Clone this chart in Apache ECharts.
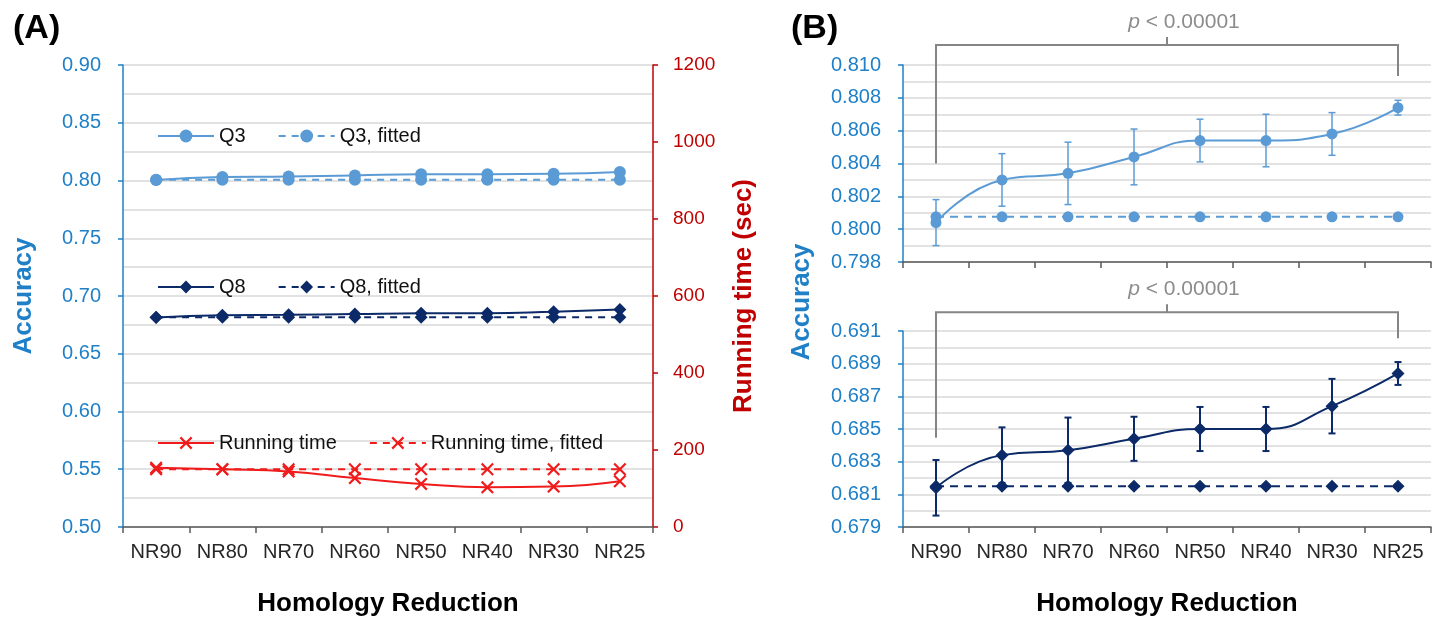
<!DOCTYPE html>
<html><head><meta charset="utf-8">
<script src="https://cdn.jsdelivr.net/npm/echarts@6/dist/echarts.min.js"></script>
<style>html,body{margin:0;padding:0;background:#fff}#c{width:1441px;height:617px}</style>
</head><body><div id="c"></div>
<script>
// ---------- data ----------
const categories = ['NR90','NR80','NR70','NR60','NR50','NR40','NR30','NR25'];
const q3 = [0.8004,0.8030,0.8034,0.8044,0.8054,0.8054,0.8058,0.8074];
const q3Err = [0.0014,0.0016,0.0019,0.0017,0.0013,0.0016,0.0013,0.00045];
const q3Fitted = [0.80075,0.80075,0.80075,0.80075,0.80075,0.80075,0.80075,0.80075];
const q8 = [0.6814,0.6834,0.6837,0.6844,0.6850,0.6850,0.6864,0.6884];
const q8Err = [0.0017,0.0017,0.0020,0.00135,0.00135,0.00135,0.00167,0.0007];
const q8Fitted = [0.6815,0.6815,0.6815,0.6815,0.6815,0.6815,0.6815,0.6815];
const runTime = [154,150,144,127,112,103,105,119];
const runTimeFitted = [150,150,150,150,150,150,150,150];
// axis ranges [min, max, interval]
const accRangeA = [0.50, 0.90, 0.05];
const timeRangeA = [0, 1200, 200];
const accRangeQ3 = [0.798, 0.810, 0.002];
const accRangeQ8 = [0.679, 0.691, 0.002];
// significance brackets: [left end, bar level, right end] in accuracy units
const q3Bracket = [0.8040, 0.81122, 0.80933];
const q8Bracket = [0.68447, 0.69215, 0.69055];
const pText = 'p < 0.00001';

// ---------- styles ----------
const FONT = '"Liberation Sans", Arial, sans-serif';
const BLUE_AX = '#1f80c8';
const RED_AX = '#c00000';
const C_Q3 = '#5b9bd5';
const C_Q8 = '#0c2a68';
const C_RT = '#f01c1c';
const GRID_C = '#d9d9d9';
const XAX_C = '#5a5a5a';
const XSYM = 'path://M0,1.2 L1.2,0 L5,3.8 L8.8,0 L10,1.2 L6.2,5 L10,8.8 L8.8,10 L5,6.2 L1.2,10 L0,8.8 L3.8,5 Z';

const chart = echarts.init(document.getElementById('c'), null, {renderer:'canvas'});

function xAxis(gridIndex, showLabels, showName) {
  return {
    type:'category', gridIndex, data:categories, boundaryGap:true,
    axisLine:{show:true, lineStyle:{color:XAX_C, width:1.5}},
    axisTick:{show:true, interval:0, length:6, lineStyle:{color:XAX_C, width:1.5}},
    axisLabel:{show:showLabels, interval:0, color:'#262626', fontSize:20, margin:15, fontFamily:FONT},
    splitLine:{show:false},
    name: showName ? 'Homology Reduction' : '', nameLocation:'middle', nameGap:64,
    nameTextStyle:{fontSize:26, fontWeight:'bold', color:'#000', fontFamily:FONT}
  };
}
function accAxis(gridIndex, range, digits, name) {
  return {
    type:'value', gridIndex, min:range[0], max:range[1], interval:range[2],
    axisLine:{show:true, lineStyle:{color:BLUE_AX, width:1.5}},
    axisTick:{show:true, length:5, lineStyle:{color:BLUE_AX, width:1.5}},
    axisLabel:{color:BLUE_AX, fontSize:20, margin:22, fontFamily:FONT, formatter:v=>v.toFixed(digits)},
    splitLine:{show:true, lineStyle:{color:GRID_C, width:1.5}},
    minorTick:{show:false, splitNumber:2},
    minorSplitLine:{show:true, lineStyle:{color:GRID_C, width:1.5}},
    name:name||'', nameLocation:'middle', nameGap:86, nameRotate:90,
    nameTextStyle:{fontSize:26, fontWeight:'bold', color:BLUE_AX, fontFamily:FONT}
  };
}
function errRender(color, width) {
  return function(params, api) {
    const x = api.value(0), v = api.value(1), e = api.value(2);
    const hi = api.coord([x, v + e]), lo = api.coord([x, v - e]);
    const w = 3.5;
    const st = {stroke:color, lineWidth:width};
    return {type:'group', children:[
      {type:'line', shape:{x1:hi[0], y1:hi[1], x2:lo[0], y2:lo[1]}, style:st},
      {type:'line', shape:{x1:hi[0]-w, y1:hi[1], x2:hi[0]+w, y2:hi[1]}, style:st},
      {type:'line', shape:{x1:lo[0]-w, y1:lo[1], x2:lo[0]+w, y2:lo[1]}, style:st}
    ]};
  };
}
function bracketRender(levels) {
  return function(params, api) {
    const n = categories.length - 1;
    const pL = api.coord([0, levels[0]]);
    const pLT = api.coord([0, levels[1]]);
    const pRT = api.coord([n, levels[1]]);
    const pR = api.coord([n, levels[2]]);
    const mx = (pLT[0] + pRT[0]) / 2, my = pLT[1];
    const st = {stroke:'#858585', lineWidth:2, fill:null};
    return {type:'group', children:[
      {type:'polyline', shape:{points:[pL, pLT, pRT, pR]}, style:st},
      {type:'line', shape:{x1:mx, y1:my, x2:mx, y2:my-8}, style:{stroke:'#858585', lineWidth:2}},
      {type:'text', x:mx + 17, y:my-23, style:{
        text:'{i|' + pText.slice(0,1) + '}{n|' + pText.slice(1) + '}',
        align:'center', verticalAlign:'middle',
        rich:{
          i:{fontStyle:'italic', fontSize:21, fill:'#8c8c8c', fontFamily:FONT},
          n:{fontSize:21, fill:'#8c8c8c', fontFamily:FONT}
        }
      }}
    ]};
  };
}

const legendCommon = {
  orient:'horizontal', itemWidth:56, itemHeight:16, itemGap:32,
  lineStyle:{width:2},
  textStyle:{fontSize:20, color:'#111', fontFamily:FONT}, selectedMode:false
};

const option = {
  animation:false,
  backgroundColor:'#fff',
  title:[
    {text:'(A)', left:8, top:7, textStyle:{fontSize:34, fontWeight:'bold', color:'#000', fontFamily:FONT}},
    {text:'(B)', left:786, top:7, textStyle:{fontSize:34, fontWeight:'bold', color:'#000', fontFamily:FONT}}
  ],
  legend:[
    Object.assign({data:['Q3','Q3, fitted'], left:152, top:121}, legendCommon),
    Object.assign({data:['Q8','Q8, fitted'], left:152, top:272}, legendCommon),
    Object.assign({data:['Running time','Running time, fitted'], left:152, top:428}, legendCommon)
  ],
  grid:[
    {left:123, top:65, width:530, height:462, containLabel:false, outerBoundsMode:'none'},
    {left:903, top:65, width:528, height:197, containLabel:false, outerBoundsMode:'none'},
    {left:903, top:331, width:528, height:196, containLabel:false, outerBoundsMode:'none'}
  ],
  xAxis:[ xAxis(0, true, true), xAxis(1, false, false), xAxis(2, true, true) ],
  yAxis:[
    accAxis(0, accRangeA, 2, 'Accuracy'),
    {
      type:'value', gridIndex:0, position:'right', min:timeRangeA[0], max:timeRangeA[1], interval:timeRangeA[2],
      axisLine:{show:true, lineStyle:{color:RED_AX, width:1.5}},
      axisTick:{show:true, length:5, lineStyle:{color:RED_AX, width:1.5}},
      axisLabel:{color:RED_AX, fontSize:19, margin:20, fontFamily:FONT, formatter:v=>String(v)},
      splitLine:{show:false},
      name:'Running time (sec)', nameLocation:'middle', nameGap:78, nameRotate:90,
      nameTextStyle:{fontSize:26, fontWeight:'bold', color:RED_AX, fontFamily:FONT}
    },
    accAxis(1, accRangeQ3, 3),
    accAxis(2, accRangeQ8, 3)
  ],
  graphic:[
    {type:'text', x:802, y:302, rotation:Math.PI/2, style:{
      text:'Accuracy', fill:BLUE_AX, fontSize:26, fontWeight:'bold', fontFamily:FONT,
      align:'center', verticalAlign:'middle'}}
  ],
  series:[
    // ---- panel A ----
    {name:'Q3', type:'line', xAxisIndex:0, yAxisIndex:0, data:q3, smooth:0.5,
      symbol:'circle', symbolSize:12, color:C_Q3, lineStyle:{width:2, color:C_Q3}, itemStyle:{color:C_Q3}, z:3},
    {name:'Q3, fitted', type:'line', xAxisIndex:0, yAxisIndex:0, data:q3Fitted,
      symbol:'circle', symbolSize:12, color:C_Q3, lineStyle:{width:2, type:[7,6], color:C_Q3}, itemStyle:{color:C_Q3}, z:2},
    {name:'Q8', type:'line', xAxisIndex:0, yAxisIndex:0, data:q8, smooth:0.5,
      symbol:'diamond', symbolSize:13, color:C_Q8, lineStyle:{width:2, color:C_Q8}, itemStyle:{color:C_Q8}, z:3},
    {name:'Q8, fitted', type:'line', xAxisIndex:0, yAxisIndex:0, data:q8Fitted,
      symbol:'diamond', symbolSize:13, color:C_Q8, lineStyle:{width:2, type:[7,6], color:C_Q8}, itemStyle:{color:C_Q8}, z:2},
    {name:'Running time', type:'line', xAxisIndex:0, yAxisIndex:1, data:runTime, smooth:0.5,
      symbol:XSYM, symbolSize:13, color:C_RT, lineStyle:{width:2, color:C_RT}, itemStyle:{color:C_RT}, z:3},
    {name:'Running time, fitted', type:'line', xAxisIndex:0, yAxisIndex:1, data:runTimeFitted,
      symbol:XSYM, symbolSize:13, color:C_RT, lineStyle:{width:2, type:[7,6], color:C_RT}, itemStyle:{color:C_RT}, z:2},
    // ---- panel B, Q3 ----
    {name:'Q3 err', type:'custom', xAxisIndex:1, yAxisIndex:2, z:1, silent:true,
      renderItem:errRender(C_Q3, 1.5), encode:{x:0, y:1},
      data:categories.map((c,i)=>[i, q3[i], q3Err[i]])},
    {name:'Q3 (B)', type:'line', xAxisIndex:1, yAxisIndex:2, data:q3, smooth:0.5,
      symbol:'circle', symbolSize:11, lineStyle:{width:2, color:C_Q3}, itemStyle:{color:C_Q3}, z:3},
    {name:'Q3, fitted (B)', type:'line', xAxisIndex:1, yAxisIndex:2, data:q3Fitted,
      symbol:'circle', symbolSize:11, lineStyle:{width:2, type:[8,6], color:C_Q3}, itemStyle:{color:C_Q3}, z:2},
    {name:'Q3 bracket', type:'custom', xAxisIndex:1, yAxisIndex:2, silent:true, clip:false,
      renderItem:bracketRender(q3Bracket), encode:{x:0, y:1}, data:[[0, q3Bracket[1]]]},
    // ---- panel B, Q8 ----
    {name:'Q8 err', type:'custom', xAxisIndex:2, yAxisIndex:3, z:1, silent:true,
      renderItem:errRender(C_Q8, 2), encode:{x:0, y:1},
      data:categories.map((c,i)=>[i, q8[i], q8Err[i]])},
    {name:'Q8 (B)', type:'line', xAxisIndex:2, yAxisIndex:3, data:q8, smooth:0.5,
      symbol:'diamond', symbolSize:13, lineStyle:{width:2, color:C_Q8}, itemStyle:{color:C_Q8}, z:3},
    {name:'Q8, fitted (B)', type:'line', xAxisIndex:2, yAxisIndex:3, data:q8Fitted,
      symbol:'diamond', symbolSize:13, lineStyle:{width:2, type:[8,6], color:C_Q8}, itemStyle:{color:C_Q8}, z:2},
    {name:'Q8 bracket', type:'custom', xAxisIndex:2, yAxisIndex:3, silent:true, clip:false,
      renderItem:bracketRender(q8Bracket), encode:{x:0, y:1}, data:[[0, q8Bracket[1]]]}
  ]
};
chart.setOption(option);
</script>
</body></html>
